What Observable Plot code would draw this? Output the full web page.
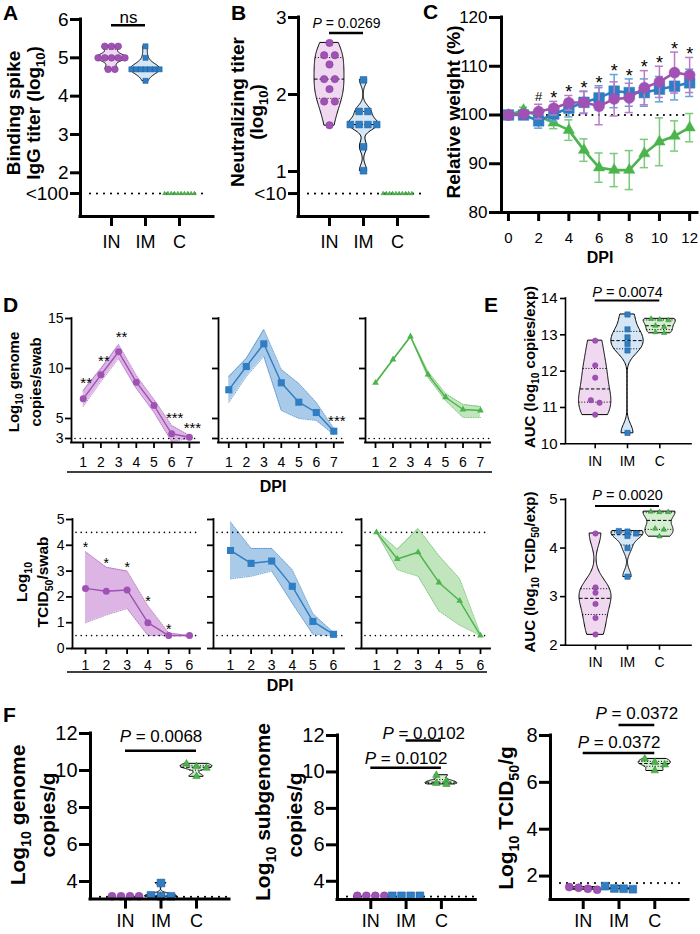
<!DOCTYPE html>
<html><head><meta charset="utf-8">
<script src="https://cdn.jsdelivr.net/npm/d3@7"></script>
<script src="https://cdn.jsdelivr.net/npm/@observablehq/plot@0.6"></script>
<style>
body{margin:0;background:#fff;}
#page{position:relative;width:700px;height:934px;overflow:hidden;background:#fff;}
</style></head><body><div id="page"></div>
<script>
// ================= DATA =================
const groups = ["IN", "IM", "C"];

// A: binding spike IgG titer (log10)
const aIN = [5.3, 5.3, 5.3, 5.0, 5.0, 5.0, 5.0, 5.0, 4.7, 4.7];
const aIM = [5.3, 5.0, 4.7, 4.7, 4.7, 4.7, 4.7, 4.7, 4.7, 4.4];
const aC  = [1.46, 1.46, 1.46, 1.46, 1.46, 1.46, 1.46, 1.46, 1.46, 1.46];
const aLOD = 1.46, aLODLabel = "<100";
const aTicks = [1.46, 2, 3, 4, 5, 6];
const aStats = [{from: "IN", to: "IM", label: "ns"}];

// B: neutralizing titer (log10)
const bIN = [2.67, 2.51, 2.51, 2.39, 2.20, 2.20, 2.07, 1.91, 1.91, 1.60];
const bIM = [2.19, 1.78, 1.78, 1.61, 1.61, 1.61, 1.61, 1.32, 1.01];
const bC  = [0.714, 0.714, 0.714, 0.714, 0.714, 0.714, 0.714, 0.714, 0.714, 0.714];
const bLOD = 0.714, bLODLabel = "<10";
const bTicks = [0.714, 1, 2, 3];
const bStats = [{from: "IN", to: "IM", label: "P = 0.0269"}];

// C: relative weight (%)
const wDays = [0, 1, 2, 3, 4, 5, 6, 7, 8, 9, 10, 11, 12];
const wIN   = [100, 100.2, 100.7, 101.4, 102.5, 102.6, 101.8, 103.3, 103.5, 105.6, 106.8, 108.7, 108.2];
const wINsd = [0, 0.5, 1.5, 1.4, 1.5, 2.3, 3.8, 3.5, 3.0, 3.5, 3.2, 4.2, 3.6];
const wIM   = [100, 100, 98.8, 100.2, 101.4, 102.6, 103.5, 104.9, 104.6, 104.6, 105.3, 105.9, 106.6];
const wIMsd = [0, 0.4, 1.5, 1.5, 1.8, 2.2, 2.5, 3.4, 2.8, 2.8, 2.6, 2.8, 2.8];
const wC    = [100, 101.0, 99.8, 98.4, 96.9, 92.8, 89.2, 88.7, 88.7, 92.1, 94.5, 95.7, 97.4];
const wCsd  = [0, 0.6, 0.5, 1.2, 2.1, 2.3, 3.0, 3.4, 4.0, 2.9, 4.9, 3.1, 2.9];
const wSig  = ["", "", "#", "*", "*", "*", "*", "*", "*", "*", "*", "*", "*"];
const wTicksY = [80, 90, 100, 110, 120];
const wTicksX = [0, 2, 4, 6, 8, 10, 12];

// D top: log10 genome copies / swab
const days7 = [1, 2, 3, 4, 5, 6, 7];
const gINm  = [6.97, 9.37, 11.67, 8.63, 6.30, 3.47, 3.13];
const gINlo = [6.2, 8.7, 11.0, 8.0, 5.6, 2.7, 3.0];
const gINhi = [7.8, 10.0, 12.4, 9.3, 6.9, 4.3, 3.3];
const gINsig = ["**", "**", "**", "", "", "***", "***"];
const gIMm  = [7.87, 10.2, 12.47, 8.57, 6.63, 5.6, 3.73];
const gIMlo = [6.6, 9.2, 11.2, 5.8, 5.0, 4.8, 3.4];
const gIMhi = [9.2, 11.0, 13.9, 9.9, 8.5, 6.6, 4.0];
const gIMsig = ["", "", "", "", "", "", "***"];
const gCm   = [8.57, 10.9, 13.2, 9.4, 7.13, 5.9, 5.8];
const gClo  = [8.5, 10.85, 13.15, 9.1, 6.8, 5.1, 5.1];
const gChi  = [8.65, 10.95, 13.25, 9.7, 7.5, 6.4, 6.2];
const gTicks = [3, 5, 10, 15];
const gLODs = [3];

// D bottom: log10 TCID50 / swab
const days6 = [1, 2, 3, 4, 5, 6];
const tINm  = [2.33, 2.22, 2.27, 1.0, 0.5, 0.5];
const tINlo = [1.0, 1.3, 1.55, 0.5, 0.5, 0.5];
const tINhi = [3.75, 3.15, 3.0, 1.65, 0.6, 0.5];
const tINsig = ["*", "*", "*", "*", "*", ""];
const tIMm  = [3.8, 3.3, 3.39, 2.41, 1.05, 0.55];
const tIMlo = [2.7, 2.8, 3.0, 1.75, 0.55, 0.5];
const tIMhi = [4.9, 3.88, 3.88, 3.05, 1.35, 0.62];
const tCm   = [4.5, 3.47, 3.73, 2.56, 1.85, 0.5];
const tClo  = [4.5, 3.05, 2.8, 1.45, 0.9, 0.5];
const tChi  = [4.55, 3.85, 4.65, 3.6, 2.7, 0.55];
const tTicks = [0, 1, 2, 3, 4, 5];
const tLODs = [4.5, 0.5];

// E: AUC
const eCopIN = [12.84, 12.16, 11.82, 11.2, 11.13, 10.80];
const eCopIM = [13.56, 13.15, 12.93, 12.75, 12.57, 10.30];
const eCopC  = [13.44, 13.42, 13.40, 13.25, 13.22, 13.07, 13.05];
const eCopTicks = [10, 11, 12, 13, 14];
const eCopStats = [{from: "IN", to: "C", label: "P = 0.0074"}];
const eTcIN = [4.30, 3.19, 3.08, 2.85, 2.56, 2.22];
const eTcIM = [4.35, 4.34, 4.30, 4.25, 4.0, 3.41];
const eTcC  = [4.75, 4.74, 4.74, 4.40, 4.38, 4.24];
const eTcTicks = [2, 3, 4, 5];
const eTcStats = [{from: "IN", to: "C", label: "P = 0.0020"}];

// F: tissue
const fGenIN = [3.2, 3.2, 3.2, 3.2];
const fGenIM = [3.92, 3.25, 3.2, 3.2];
const fGenC  = [10.36, 10.22, 10.13, 9.68];
const fGenLOD = 3.17;
const fGenStats = [{from: "IN", to: "C", label: "P = 0.0068"}];
const fSubIN = [3.2, 3.2, 3.2, 3.2];
const fSubIM = [3.2, 3.2, 3.2, 3.2];
const fSubC  = [9.82, 9.5, 9.38, 9.32];
const fSubLOD = 3.16;
const fSubStats = [{from: "IN", to: "C", label: "P = 0.0102"}, {from: "IM", to: "C", label: "P = 0.0102"}];
const fTcIN = [1.42, 1.50, 1.46, 1.53];
const fTcIM = [1.44, 1.57, 1.46, 1.47];
const fTcC  = [7.0, 6.86, 6.75, 6.5];
const fTcLOD = 1.7;
const fTcStats = [{from: "IN", to: "C", label: "P = 0.0372"}, {from: "IM", to: "C", label: "P = 0.0372"}];
const fGenTicks = [4, 6, 8, 10, 12];
const fTcTicks = [2, 4, 6, 8];

// ================= STYLE =================
const FONT = '"Liberation Sans", Arial, Helvetica, sans-serif';
const COL = {
  IN: {main: "#a052b4", edge: "#7d3a92", fill: "#efd8f0", band: "#dcb5e4", err: "#b97cc8"},
  IM: {main: "#2f7dc2", edge: "#1d5b96", fill: "#d5e7f6", band: "#a9cae9", err: "#62a2da"},
  C:  {main: "#4cb44c", edge: "#2f8a33", fill: "#d6efd2", band: "#c1e5bd", err: "#7bc97b"}
};
const SYM = {IN: "circle", IM: "square", C: "triangle"};
const page = document.getElementById("page");
const M = {l: 70, r: 20, t: 60, b: 60};

function makePlot(x0, y0, x1, y1, xDomain, yDomain, marks) {
  const p = Plot.plot({
    width: x1 - x0 + M.l + M.r,
    height: y1 - y0 + M.t + M.b,
    marginLeft: M.l, marginRight: M.r, marginTop: M.t, marginBottom: M.b,
    x: {domain: xDomain, label: null},
    y: {domain: yDomain, label: null},
    style: `background:transparent;overflow:visible;max-width:none;font-family:${FONT};color:#000;`,
    marks
  });
  p.style.position = "absolute";
  p.style.left = (x0 - M.l) + "px";
  p.style.top = (y0 - M.t) + "px";
  italicP(p);
  page.appendChild(p);
  return p;
}

function italicP(svg) {
  svg.querySelectorAll("text").forEach(t => {
    if (t.children.length === 0 && /^P = /.test(t.textContent)) {
      const rest = t.textContent.slice(1);
      t.textContent = "";
      const a = document.createElementNS("http://www.w3.org/2000/svg", "tspan");
      a.setAttribute("font-style", "italic");
      a.textContent = "P";
      t.appendChild(a);
      t.appendChild(document.createTextNode(rest));
    }
  });
}

function kdeShape(vals, bwScale) {
  const lo = d3.min(vals), hi = d3.max(vals);
  if (hi - lo < 1e-9) return null;
  const n = vals.length;
  const sd = d3.deviation(vals);
  const q1 = d3.quantile(vals, 0.25), q3 = d3.quantile(vals, 0.75), med = d3.median(vals);
  let s = Math.min(sd, (q3 - q1) / 1.34);
  if (!(s > 0)) s = sd;
  const h = 0.9 * s * Math.pow(n, -0.2) * bwScale;
  const dens = y => d3.sum(vals, v => Math.exp(-0.5 * ((y - v) / h) ** 2));
  const N = 90;
  const ys = d3.range(N + 1).map(i => lo + (hi - lo) * i / N);
  const mx = d3.max(ys, dens);
  const width = y => dens(y) / mx;
  return {pts: ys.map(y => ({y, w: width(y)})), med, q1, q3, width};
}

function swarm(vals, kY, tolPx, spacePx, stepPx) {
  const sorted = [...vals].sort((a, b) => b - a);
  const rows = [];
  for (const v of sorted) {
    const row = rows[rows.length - 1];
    if (row && (row[0] - v) * kY < tolPx) row.push(v); else rows.push([v]);
  }
  return rows.flatMap(row => row.map((v, k) => ({v, off: (k - (row.length - 1) / 2) * spacePx / stepPx})));
}

function violinPanel(cfg) {
  const [x0, y0, x1, y1] = cfg.frame;
  const st = cfg.st;
  const xDomain = [(x0 - cfg.c0) / cfg.step, (x1 - cfg.c0) / cfg.step];
  const yDomain = cfg.yDomain;
  const kY = (y1 - y0) / (yDomain[1] - yDomain[0]);
  const marks = [];
  if (cfg.lod != null) marks.push(Plot.ruleY([cfg.lod], {strokeWidth: st.lodW, strokeDasharray: st.lodDash, strokeLinecap: "round", insetLeft: st.lodInset[0], insetRight: st.lodInset[1]}));
  cfg.sets.forEach((vals, i) => {
    const g = groups[i], c = COL[g];
    const k = kdeShape(vals, st.bw);
    const hw = st.half;
    if (k) {
      marks.push(Plot.areaX(k.pts, {y: "y", x1: p => i - p.w * hw, x2: p => i + p.w * hw, fill: c.fill, stroke: "#000", strokeWidth: st.vW}));
      marks.push(Plot.ruleY([k.med], {x1: v => i - k.width(v) * hw, x2: v => i + k.width(v) * hw, strokeWidth: 1, strokeDasharray: "3.5,2"}));
      marks.push(Plot.ruleY([k.q1, k.q3], {x1: v => i - k.width(v) * hw, x2: v => i + k.width(v) * hw, strokeWidth: 1, strokeDasharray: "1,1.8"}));
    }
    const pts = swarm(vals, kY, st.tol, st.space[g], cfg.step);
    marks.push(Plot.dot(pts, {x: d => i + d.off, y: "v", symbol: SYM[g], r: st.r[g], fill: c.main, stroke: c.edge, strokeWidth: 0.5}));
  });
  const top = d3.max(cfg.sets.flat());
  cfg.stats.forEach((s, j) => {
    const a = groups.indexOf(s.from), b = groups.indexOf(s.to);
    const [barDy, textDy] = cfg.bracketDy[j];
    marks.push(Plot.ruleY([{y: top, x1: a, x2: b}], {y: "y", x1: "x1", x2: "x2", dy: barDy, strokeWidth: st.barW}));
    marks.push(Plot.text([{x: (a + b) / 2, y: top, t: s.label}], {x: "x", y: "y", text: "t", dy: textDy, fontSize: st.pFont}));
  });
  marks.push(Plot.ruleX([xDomain[0]], {strokeWidth: st.axisW, strokeLinecap: "square"}));
  marks.push(Plot.ruleY([yDomain[0]], {strokeWidth: st.axisW, strokeLinecap: "square"}));
  marks.push(Plot.axisY({ticks: cfg.yTicks, tickFormat: v => (v === cfg.lod && cfg.lodLabel) ? cfg.lodLabel : String(v), tickSize: st.tick, tickPadding: st.yPad, fontSize: st.yFont, strokeWidth: st.axisW, label: null}));
  marks.push(Plot.axisX({ticks: [0, 1, 2], tickFormat: i => groups[i], tickSize: st.tickX ?? st.tick, tickPadding: st.xPad, fontSize: st.xFont, strokeWidth: st.axisW, label: null}));
  return makePlot(x0, y0, x1, y1, xDomain, yDomain, marks);
}

// ---------- A & B ----------
const stAB = {
  lodW: 2.2, lodDash: "0,7", lodInset: [10, 5], bw: 1, half: 0.44, vW: 1, tol: 3,
  axisW: 3, tick: 10, yPad: 2, xPad: 9, yFont: 19, xFont: 18, barW: 2.5
};
violinPanel({
  frame: [80, 19, 213, 216], c0: 111, step: 34, yDomain: [0.86, 6],
  sets: [aIN, aIM, aC], lod: aLOD, lodLabel: aLODLabel, yTicks: aTicks,
  stats: aStats, bracketDy: [[-21, -29]],
  st: {...stAB, pFont: 17, space: {IN: 6.7, IM: 4.7, C: 3.3}, r: {IN: 3.4, IM: 2.9, C: 1.5}}
});
violinPanel({
  frame: [298, 17, 428, 216], c0: 329, step: 34, yDomain: [0.416, 3],
  sets: [bIN, bIM, bC], lod: bLOD, lodLabel: bLODLabel, yTicks: bTicks,
  stats: bStats, bracketDy: [[-10, -19.4]],
  st: {...stAB, pFont: 14, space: {IN: 10.7, IM: 8.8, C: 3.2}, r: {IN: 3.7, IM: 3.8, C: 1.5}}
});

// ---------- C (weights) ----------
(function () {
  const x0 = 501, x1 = 697, y0 = 17, y1 = 212;
  const xDomain = [-0.46, 12.52], yDomain = [80, 120];
  const marks = [];
  marks.push(Plot.ruleY([{y: 100, x1: d3.min(wDays), x2: d3.max(wDays)}], {y: "y", x1: "x1", x2: "x2", strokeWidth: 2.2, strokeDasharray: "0,6.5", strokeLinecap: "round"}));
  const series = [
    {g: "C", m: wC, sd: wCsd, r: 4.2},
    {g: "IM", m: wIM, sd: wIMsd, r: 6},
    {g: "IN", m: wIN, sd: wINsd, r: 5.5}
  ];
  const cap = 0.27;
  series.forEach(s => {
    const c = COL[s.g];
    const data = wDays.map((d, i) => ({day: d, m: s.m[i], sd: s.sd[i]}));
    const eb = data.filter(d => d.sd > 0);
    marks.push(Plot.ruleX(eb, {x: "day", y1: d => d.m - d.sd, y2: d => d.m + d.sd, stroke: c.err, strokeWidth: 1.5}));
    marks.push(Plot.ruleY(eb, {y: d => d.m + d.sd, x1: d => d.day - cap, x2: d => d.day + cap, stroke: c.err, strokeWidth: 1.5}));
    marks.push(Plot.ruleY(eb, {y: d => d.m - d.sd, x1: d => d.day - cap, x2: d => d.day + cap, stroke: c.err, strokeWidth: 1.5}));
    marks.push(Plot.line(data, {x: "day", y: "m", stroke: c.main, strokeWidth: 2.6}));
    marks.push(Plot.dot(data, {x: "day", y: "m", symbol: SYM[s.g], r: s.r, fill: c.main, stroke: c.main, strokeWidth: 0.5}));
  });
  const sig = wDays.map((d, i) => ({day: d, y: Math.max(wIN[i] + wINsd[i], wIM[i] + wIMsd[i]), s: wSig[i]}));
  marks.push(Plot.text(sig.filter(d => d.s === "*"), {x: "day", y: "y", text: "s", dy: -3, fontSize: 18}));
  marks.push(Plot.text(sig.filter(d => d.s === "#"), {x: "day", y: "y", text: "s", dy: -7, fontSize: 13}));
  marks.push(Plot.ruleX([xDomain[0]], {strokeWidth: 3, strokeLinecap: "square"}));
  marks.push(Plot.ruleY([yDomain[0]], {strokeWidth: 3, strokeLinecap: "square"}));
  marks.push(Plot.axisY({ticks: wTicksY, tickSize: 12, tickPadding: 2, fontSize: 17, strokeWidth: 3, label: null}));
  marks.push(Plot.axisX({ticks: wTicksX, tickSize: 9, tickPadding: 11, fontSize: 15, strokeWidth: 3, label: null}));
  makePlot(x0, y0, x1, y1, xDomain, yDomain, marks);
})();

// ---------- D ----------
const D_R = {IN: 3.5, IM: 4, C: 2.5};
function dPanel(cfg) {
  const {x0, x1, y0, y1, day1, step, days, yDomain, g, m, lo, hi, sig, yTicks, showY, lods, xPad, starFont, starDy, starDx} = cfg;
  const xDomain = [1 - (day1 - x0) / step, 1 + (x1 - day1) / step];
  const data = days.map((d, i) => ({day: d, m: m[i], lo: lo[i], hi: hi[i], s: sig ? sig[i] : ""}));
  const c = COL[g];
  const marks = [
    Plot.areaY(data, {x: "day", y1: "lo", y2: "hi", fill: c.band}),
    Plot.line(data, {x: "day", y: "lo", stroke: c.main, strokeWidth: 0.9, strokeDasharray: "1,1.3", strokeOpacity: 0.75}),
    Plot.line(data, {x: "day", y: "hi", stroke: c.main, strokeWidth: 0.9, strokeDasharray: "1,1.3", strokeOpacity: 0.75}),
    Plot.ruleY(lods, {strokeWidth: 1.6, strokeDasharray: "0,5.2", strokeLinecap: "round", insetLeft: 4, insetRight: 1}),
    Plot.line(data, {x: "day", y: "m", stroke: c.main, strokeWidth: 1.4}),
    Plot.dot(data, {x: "day", y: "m", symbol: SYM[g], r: D_R[g], fill: c.main}),
    Plot.text(data.filter(d => d.s), {x: "day", y: "hi", text: "s", dy: starDy, dx: starDx, fontSize: starFont}),
    Plot.ruleX([xDomain[0]], {strokeWidth: 1.8, strokeLinecap: "square"}),
    Plot.ruleY([yDomain[0]], {strokeWidth: 1.8, strokeLinecap: "square"}),
    Plot.axisY({ticks: yTicks, tickFormat: showY ? (d => String(d)) : (() => ""), tickSize: 6, tickPadding: 2, fontSize: 14, strokeWidth: 1.8, label: null}),
    Plot.axisX({ticks: days, tickFormat: d => String(d), tickSize: 6, tickPadding: xPad, fontSize: 14, strokeWidth: 1.8, label: null})
  ];
  return makePlot(x0, y0, x1, y1, xDomain, yDomain, marks);
}
const dTop = {y0: 318, y1: 442, yDomain: [2.6, 15], days: days7, yTicks: gTicks, lods: gLODs, xPad: 9, starFont: 15, starDy: -7, starDx: 3};
dPanel({...dTop, x0: 71, x1: 199, day1: 82.7, step: 17.7, g: "IN", m: gINm, lo: gINlo, hi: gINhi, sig: gINsig, showY: true});
dPanel({...dTop, x0: 218, x1: 343, day1: 228.3, step: 17.5, g: "IM", m: gIMm, lo: gIMlo, hi: gIMhi, sig: gIMsig, showY: false});
dPanel({...dTop, x0: 365, x1: 490, day1: 375, step: 17.5, g: "C", m: gCm, lo: gClo, hi: gChi, sig: null, showY: false});
const dBot = {y0: 519, y1: 648, yDomain: [0, 5], days: days6, yTicks: tTicks, lods: tLODs, xPad: 6, starFont: 14, starDy: -4, starDx: 0};
dPanel({...dBot, x0: 72, x1: 200, day1: 85, step: 20.8, g: "IN", m: tINm, lo: tINlo, hi: tINhi, sig: tINsig, showY: true});
dPanel({...dBot, x0: 213, x1: 344, day1: 230, step: 20.6, g: "IM", m: tIMm, lo: tIMlo, hi: tIMhi, sig: null, showY: false});
dPanel({...dBot, x0: 361, x1: 490, day1: 376, step: 20.8, g: "C", m: tCm, lo: tClo, hi: tChi, sig: null, showY: false});

// ---------- E ----------
const stE = {
  lodW: 0, lodDash: "", lodInset: [0, 0], bw: 1, half: 0.5, vW: 1, tol: 4,
  axisW: 1.6, tick: 5, yPad: 3, xPad: 7, yFont: 15, xFont: 14, barW: 2, pFont: 14.5,
  space: {IN: 8.7, IM: 8.7, C: 8.7}, r: {IN: 2.7, IM: 3, C: 2}
};
violinPanel({
  frame: [565, 298, 691, 443.3], c0: 594.7, step: 32.3, yDomain: [10, 14],
  sets: [eCopIN, eCopIM, eCopC], lod: null, yTicks: eCopTicks,
  stats: eCopStats, bracketDy: [[-14, -22]], st: stE
});
violinPanel({
  frame: [565, 499.3, 691, 645], c0: 595, step: 32, yDomain: [2, 5],
  sets: [eTcIN, eTcIM, eTcC], lod: null, yTicks: eTcTicks,
  stats: eTcStats, bracketDy: [[-5.7, -16.4]], st: stE
});

// ---------- F ----------
const stF = {
  lodW: 2.2, lodDash: "0,7", lodInset: [10, 2], bw: 1, half: 0.45, vW: 1, tol: 6,
  axisW: 3, tick: 11, tickX: 10, yPad: 2, xPad: 5, yFont: 20, xFont: 18, barW: 2.5, pFont: 17,
  space: {IN: 9, IM: 10, C: 10}, r: {IN: 4, IM: 4.4, C: 2.8}
};
violinPanel({
  frame: [90, 732.7, 229, 898.3], c0: 125, step: 35.5, yDomain: [3.05, 12],
  sets: [fGenIN, fGenIM, fGenC], lod: fGenLOD, yTicks: fGenTicks,
  stats: fGenStats, bracketDy: [[-13, -27.7]], st: stF
});
violinPanel({
  frame: [336.7, 735, 475, 899], c0: 370, step: 35.3, yDomain: [3.0, 12],
  sets: [fSubIN, fSubIM, fSubC], lod: fSubLOD, yTicks: fGenTicks,
  stats: fSubStats, bracketDy: [[-7.4, -16.7], [-34.7, -42]], st: {...stF, space: {IN: 9, IM: 9.2, C: 10}}
});
violinPanel({
  frame: [550, 735, 688, 899], c0: 582.7, step: 35.8, yDomain: [1, 8],
  sets: [fTcIN, fTcIM, fTcC], lod: fTcLOD, yTicks: fTcTicks,
  stats: fTcStats, bracketDy: [[-6, -16.7], [-34, -45]], st: {...stF, space: {IN: 9.3, IM: 9.2, C: 10}}
});

// ================= TEXT OVERLAY =================
const ov = d3.select(page).append("svg")
  .attr("width", 700).attr("height", 934)
  .style("position", "absolute").style("left", "0px").style("top", "0px")
  .style("overflow", "visible").style("pointer-events", "none");
function label(x, y, s, {size = 16, weight = "bold", rot = false, anchor = "middle"} = {}) {
  const t = ov.append("text").attr("font-family", FONT).attr("font-size", size)
    .attr("font-weight", weight).attr("text-anchor", anchor).attr("fill", "#000");
  if (rot) t.attr("transform", `translate(${x},${y}) rotate(-90)`).attr("x", 0).attr("y", size * 0.35);
  else t.attr("x", x).attr("y", y);
  const parts = s.split(/(_\{[^}]*\})/);
  let shifted = false;
  parts.forEach(p => {
    if (!p) return;
    if (p.startsWith("_{")) {
      t.append("tspan").attr("font-size", size * 0.68).attr("dy", size * 0.28).text(p.slice(2, -1));
      shifted = true;
    } else {
      const ts = t.append("tspan").text(p);
      if (shifted) { ts.attr("dy", -size * 0.28); shifted = false; }
    }
  });
}
function hline(x1, x2, y) {
  ov.append("line").attr("x1", x1).attr("x2", x2).attr("y1", y).attr("y2", y).attr("stroke", "#000").attr("stroke-width", 1.5);
}
// panel letters
label(3, 20, "A", {size: 21, anchor: "start"});
label(231, 20, "B", {size: 21, anchor: "start"});
label(423, 19, "C", {size: 21, anchor: "start"});
label(3, 312, "D", {size: 21, anchor: "start"});
label(484, 312, "E", {size: 21, anchor: "start"});
label(3, 722, "F", {size: 21, anchor: "start"});
// A, B, C titles
label(13, 113, "Binding spike", {size: 19, rot: true});
label(33, 113, "IgG titer (log_{10})", {size: 19, rot: true});
label(237, 112, "Neutralizing titer", {size: 19, rot: true});
label(256, 112, "(log_{10})", {size: 19, rot: true});
label(453, 112, "Relative weight (%)", {size: 19, rot: true});
label(600, 263, "DPI", {size: 16});
// D titles
label(14, 382, "Log_{10} genome", {size: 15, rot: true});
label(36, 382, "copies/swab", {size: 15, rot: true});
hline(67, 492, 472);
label(273, 492, "DPI", {size: 16});
label(22, 582, "Log_{10}", {size: 15.5, rot: true});
label(43, 582, "TCID_{50}/swab", {size: 15.5, rot: true});
hline(67, 487, 672);
label(280, 691, "DPI", {size: 16});
// E titles
label(530, 367, "AUC (log_{10} copies/exp)", {size: 15, rot: true});
label(530, 572, "AUC (log_{10} TCID_{50}/exp)", {size: 15, rot: true});
// F titles
label(18, 815, "Log_{10} genome", {size: 21, rot: true});
label(48, 815, "copies/g", {size: 21, rot: true});
label(263, 812, "Log_{10} subgenome", {size: 21, rot: true});
label(295, 815, "copies/g", {size: 21, rot: true});
label(506, 818, "Log_{10} TCID_{50}/g", {size: 21, rot: true});
</script>
</body></html>
